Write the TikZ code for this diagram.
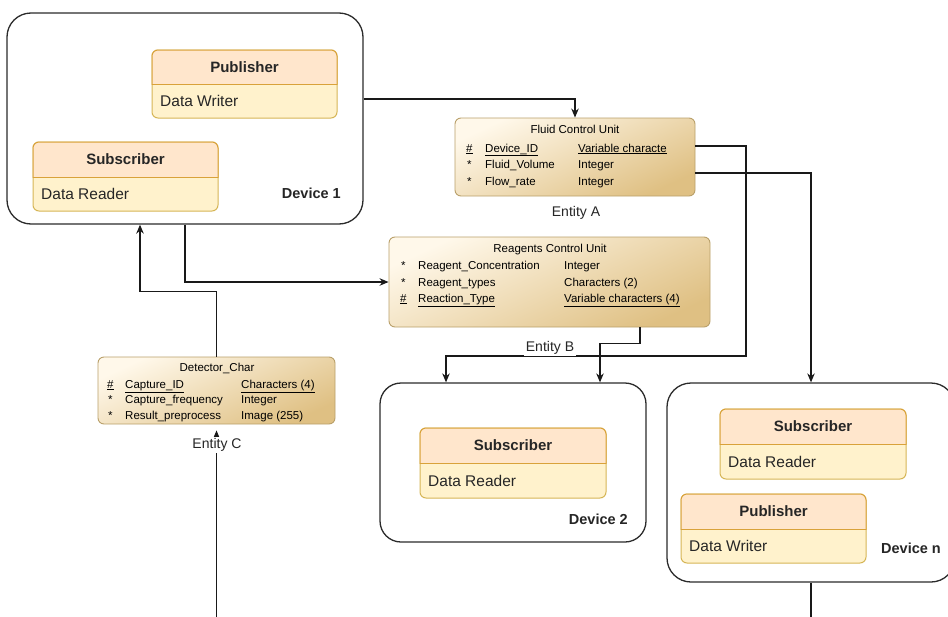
\documentclass[tikz,border=0pt]{standalone}
\usepackage{fontspec}
\setmainfont{Liberation Sans}
\usetikzlibrary{arrows.meta,calc}
\definecolor{hdrfill}{HTML}{FFE6CC}
\definecolor{hdrline}{HTML}{D9A23A}
\definecolor{bodyfill}{HTML}{FFF2CC}
\definecolor{bodyline}{HTML}{D6B656}
\definecolor{entlight}{HTML}{FFF8EA}
\definecolor{entdark}{HTML}{DFC083}
\definecolor{entline}{HTML}{B9A06A}
\definecolor{devline}{HTML}{2B2B2B}
\tikzset{
  devbox/.style={draw=devline, line width=1.3pt, rounded corners=24pt, fill=white, inner sep=0pt},
  entbox/.style={draw=entline, line width=0.9pt, rounded corners=6pt, top color=entlight, bottom color=entdark, shading angle=25, inner sep=0pt},
  clsbody/.style={draw=bodyline, line width=1pt, fill=bodyfill, rounded corners=6pt},
  clshead/.style={draw=hdrline, line width=1pt, fill=hdrfill, rounded corners=6pt},
  clstitle/.style={font=\bfseries\fontsize{15}{18}\selectfont, text=black!85},
  clstext/.style={font=\fontsize{15.5}{18}\selectfont, text=black!85, anchor=west, inner sep=0pt},
  devlabel/.style={font=\bfseries\fontsize{14.5}{17}\selectfont, text=black!85, inner sep=0pt},
  etitle/.style={font=\fontsize{11.5}{13}\selectfont, text=black, anchor=base, inner sep=0pt},
  etext/.style={font=\fontsize{11.5}{13}\selectfont, text=black, anchor=base west, inner sep=0pt},
  elabel/.style={font=\fontsize{14}{16}\selectfont, text=black!85, fill=white, inner sep=1.5pt},
  conn/.style={draw=black!90, line width=1.2pt, -{Stealth[length=9pt,width=7.5pt]}},
  plain/.style={draw=black!90, line width=1.2pt},
}
\newcommand{\classbox}[8]{%
  \draw[clsbody] (#2,#3) rectangle (#4,#6);
  \begin{scope}
    \clip (#2-3,#3-3) rectangle (#4+3,#5);
    \draw[clshead] (#2,#3) rectangle (#4,#5+12);
  \end{scope}
  \draw[draw=hdrline, line width=1pt] (#2,#5) -- (#4,#5);
  \node[clstitle] (#1t) at ({(#2+#4)/2},{(#3+#5)/2}) {#7};
  \node[clstext] (#1b) at (#2+8,{(#5+#6)/2}) {#8};
}
\begin{document}
\begin{tikzpicture}[x=1pt,y=-1pt]
\useasboundingbox (0,0) rectangle (948,616);

% devices
\node[devbox, minimum width=356pt, minimum height=211pt] (dev1) at (185,118.5) {};
\node[devbox, minimum width=266pt, minimum height=159pt, rounded corners=21pt] (dev2) at (513,462.5) {};
\node[devbox, minimum width=288pt, minimum height=199pt] (devn) at (811,482.5) {};

\classbox{pub1}{152}{50}{337}{84}{118}{Publisher}{Data Writer}
\classbox{sub1}{33}{142}{218}{177}{211}{Subscriber}{Data Reader}
\classbox{sub2}{420}{428}{606}{463}{498}{Subscriber}{Data Reader}
\classbox{subn}{720}{409}{906}{444}{479}{Subscriber}{Data Reader}
\classbox{pubn}{681}{494}{866}{529}{563}{Publisher}{Data Writer}

\node[devlabel, anchor=east] (d1l) at (341,193) {Device 1};
\node[devlabel, anchor=east] (d2l) at (628,519) {Device 2};
\node[devlabel, anchor=west] (dnl) at (881,548) {Device n};

% entities
\node[entbox, minimum width=240pt, minimum height=78pt] (fcu) at (575,157) {};
\node[etitle] (fcut) at (575,133) {Fluid Control Unit};
\node[etext] (fcu1a) at (466,152) {\underline{\#}};
\node[etext] (fcu1b) at (485,152) {\underline{Device\_ID}};
\node[etext] (fcu1c) at (578,152) {\underline{Variable characte}};
\node[etext] (fcu2a) at (467,168) {*};
\node[etext] (fcu2b) at (485,168) {Fluid\_Volume};
\node[etext] (fcu2c) at (578,168) {Integer};
\node[etext] (fcu3a) at (467,185) {*};
\node[etext] (fcu3b) at (485,185) {Flow\_rate};
\node[etext] (fcu3c) at (578,185) {Integer};

\node[entbox, minimum width=321pt, minimum height=90pt] (rcu) at (549.5,282) {};
\node[etitle] (rcut) at (550,252) {Reagents Control Unit};
\node[etext] (rcu1a) at (401,269) {*};
\node[etext] (rcu1b) at (418,269) {Reagent\_Concentration};
\node[etext] (rcu1c) at (564,269) {Integer};
\node[etext] (rcu2a) at (401,286) {*};
\node[etext] (rcu2b) at (418,286) {Reagent\_types};
\node[etext] (rcu2c) at (564,286) {Characters (2)};
\node[etext] (rcu3a) at (400,302) {\underline{\#}};
\node[etext] (rcu3b) at (418,302) {\underline{Reaction\_Type}};
\node[etext] (rcu3c) at (564,302) {\underline{Variable characters (4)}};

\node[entbox, minimum width=237pt, minimum height=67pt] (det) at (216.5,390.5) {};
\node[etitle] (dett) at (217,371) {Detector\_Char};
\node[etext] (det1a) at (107,388) {\underline{\#}};
\node[etext] (det1b) at (125,388) {\underline{Capture\_ID}};
\node[etext] (det1c) at (241,388) {\underline{Characters (4)}};
\node[etext] (det2a) at (108,403) {*};
\node[etext] (det2b) at (125,403) {Capture\_frequency};
\node[etext] (det2c) at (241,403) {Integer};
\node[etext] (det3a) at (108,419) {*};
\node[etext] (det3b) at (125,419) {Result\_preprocess};
\node[etext] (det3c) at (241,419) {Image (255)};

% connectors
\coordinate (cbot) at (216.5,620);
\coordinate (nbot) at (811,620);
\draw[conn] ([yshift=19.5pt]dev1.east) -| (fcu.north);
\draw[conn] ([yshift=11pt]fcu.east) -| (746,356) -| ([xshift=-67pt]dev2.north);
\draw[conn] ([yshift=-16pt]fcu.east) -| (devn.north);
\draw[conn] ([xshift=90.5pt]rcu.south) -- ++(0,16) -| ([xshift=87pt]dev2.north);
\draw[conn] (dev1.south) |- (rcu.west);
\draw[conn] (det.north) -- ++(0,-65) -| ([xshift=-45pt]dev1.south);
\draw[conn] (cbot) -- ([yshift=-6pt]det.south);
\draw[plain] (devn.south) -- (nbot);

% entity labels
\node[elabel] (ea) at (576,213) {Entity A};
\node[elabel] (eb) at (550,348) {Entity B};
\node[elabel] (ec) at (217,445) {Entity C};
\end{tikzpicture}
\end{document}
